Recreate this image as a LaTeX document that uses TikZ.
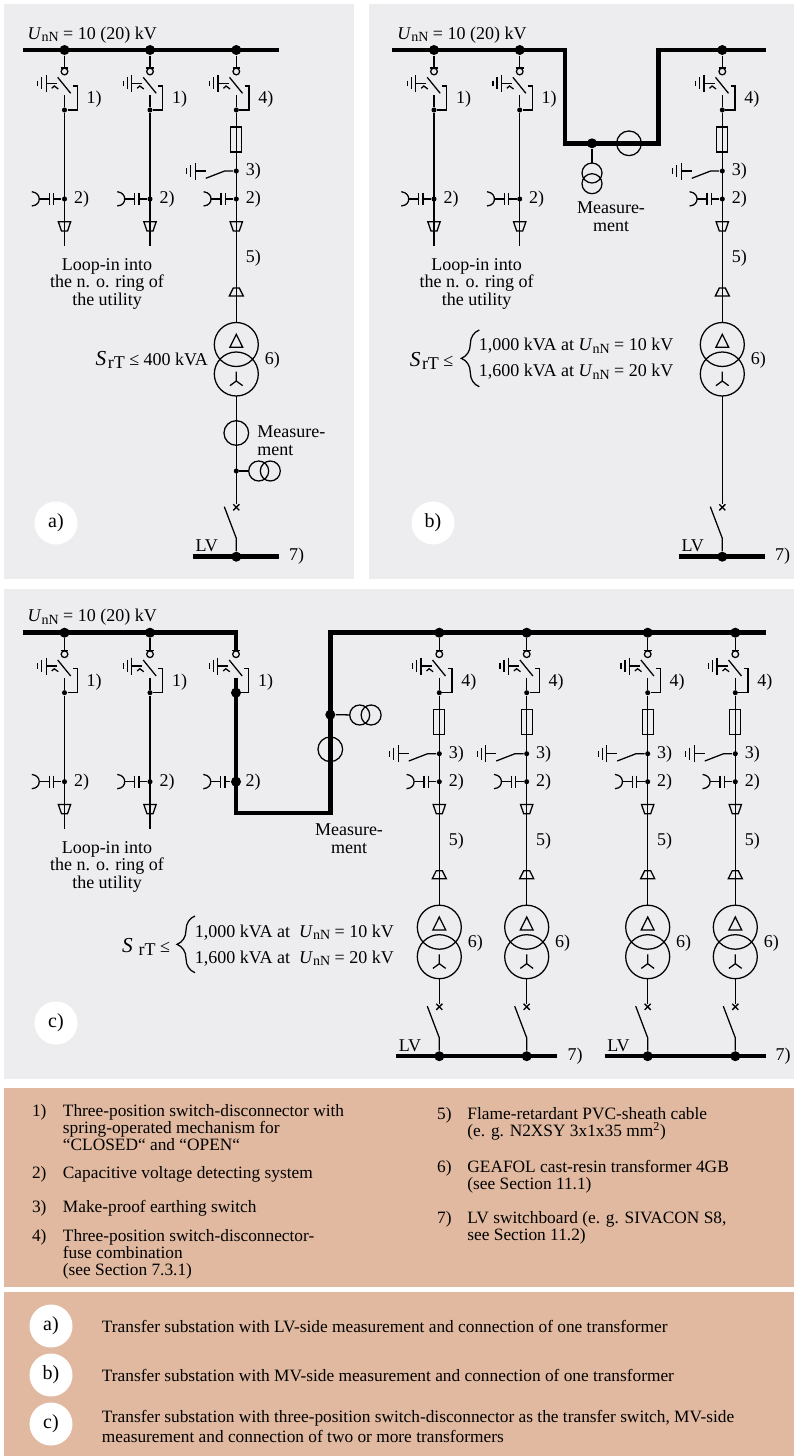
\documentclass[tikz,border=0pt]{standalone}
\usepackage{fontspec}
\setmainfont{Liberation Serif}
\usetikzlibrary{positioning,shapes.misc,decorations.pathreplacing}

\definecolor{panelgray}{HTML}{EDEDEF}
\definecolor{legendtan}{HTML}{E0B9A0}

\newcommand{\Unn}{\textit{U}\raisebox{-2pt}{\fontsize{10.5}{10.5}\selectfont nN}}
\newcommand{\SrT}{{\fontsize{16}{16}\selectfont\textit{S}}\kern1.1pt\raisebox{-2pt}{rT}}

% ticks and plate of an earth connection, plate at #1,#2
\newcommand{\earthsym}[2]{
  \draw (#1-8.5,#2-2.8) -- (#1-8.5,#2+2.8);
  \draw (#1-4.5,#2-6) -- (#1-4.5,#2+6);
  \draw (#1,#2-8.5) -- (#1,#2+8.5);
  \draw (#1,#2) -- (#1+10.4,#2);
}
% switch with ring, earth side, drive bracket
\newcommand{\swbody}[4]{
  \begin{scope}[shift={(#2,#3)}]
    \node[ringtop] (#1ring) at (0,71.5) {};
    \node[swdot] (#1out) at (0,110) {};
    \coordinate (#1fix) at (0,95);
    \draw (-3.8,68) -- (3.8,68);
    \earthsym{-18.2}{83.3}
    \draw (-6.8,77.3) -- (6.2,93.3);
    \draw (-12.8,88.3) -- (-10.2,86) -- (-6.2,89);
    \draw (#1fix) -- (#1out);
    \draw (#1out) -- (12.8,110) -- (12.8,86) -- (8.2,86);
    \node[lbl] (#1no) at (29.5,99) {#4};
  \end{scope}
}
\newcommand{\swfeed}[4]{
  \swbody{#1}{#2}{#3}{#4}
  \node[busdot] (#1bus) at (#2,#3+50) {};
  \draw (#1bus) -- (#1ring);
}
% capacitive voltage detection on the trunk
\newcommand{\capdet}[4][swdot]{
  \begin{scope}[shift={(#3,#4)}]
    \node[#1] (#2det) at (0,199) {};
    \draw (-32.7,191.7) .. controls (-27,192.5) and (-25.3,196) .. (-25.3,199)
      .. controls (-25.3,202) and (-27,205.5) .. (-32.7,206);
    \draw (-25.3,199) -- (-15.3,199);
    \draw (-15.3,193) -- (-15.3,205);
    \draw (-11,193) -- (-11,205);
    \draw (-11,199) -- (#2det);
    \node[lbl] (#2detno) at (17,199.5) {2)};
  \end{scope}
}
\newcommand{\funneltop}[3]{
  \node[coordinate] (#1fa) at (#2,#3+221.7) {};
  \draw (#1fa) ++(-6.2,0) -- ++(12.4,0) -- ++(-3.2,9.3) -- ++(-6,0) -- cycle;
}
\newcommand{\loopfeed}[4]{
  \swfeed{#1}{#2}{#3}{#4}
  \coordinate (#1end) at (#2,#3+246);
  \draw (#1out) -- (#1end);
  \capdet{#1}{#2}{#3}
  \funneltop{#1}{#2}{#3}
}
% fuse feeder down to the transformer
\newcommand{\trafofeed}[3]{
  \swfeed{#1}{#2}{#3}{4)}
  \begin{scope}[shift={(#2,#3)}]
    \node[fusebox] (#1fuse) at (0,139.5) {};
    \node[swdot] (#1es) at (0,171) {};
    \node[trans] (#1hv) at (0,344.5) {};
    \node[trans] (#1lv) at (0,374) {};
    \draw (#1out) -- (#1hv);
    \earthsym{-41}{171}
    \draw (-30.5,178.3) -- (-11.7,171) -- (#1es);
    \node[lbl] (#1esno) at (17,171.5) {3)};
    \draw (-3,288) -- (3,288) -- (7,296) -- (-7,296) -- cycle;
    \node[lbl] (#1cab) at (17,258.5) {5)};
    \draw (0,334.3) -- (6.4,347.3) -- (-6.4,347.3) -- cycle;
    \draw (0,371.7) -- (0,381) (-6.4,385.7) -- (0,381) -- (6.4,385.7);
    \node[lbl] (#1no6) at (36,360) {6)};
  \end{scope}
  \capdet{#1}{#2}{#3}
  \funneltop{#1}{#2}{#3}
}
% breaker mark, open switch and drop to the LV bus
\newcommand{\lvdrop}[3]{
  \begin{scope}[shift={(#2,#3)}]
    \node[xmark] (#1x) at (0,507.3) {};
    \node[busdot] (#1lvbus) at (0,556.7) {};
    \coordinate (#1dr) at (0,538.3);
    \draw (#1lv) -- (#1x);
    \draw (-12,506.7) -- (#1dr) -- (#1lvbus);
  \end{scope}
}

\begin{document}
\begin{tikzpicture}[x=.75pt,y=-.75pt,line width=.95pt,
    lbl/.style={inner sep=0pt,font=\fontsize{13.5}{13.3}\selectfont},
    leg/.style={inner sep=0pt,align=left,anchor=north west,font=\fontsize{13}{12.75}\selectfont},
    bus/.style={line width=3.4pt,line join=miter},
    busdot/.style={circle,fill=black,inner sep=0pt,minimum size=7.5pt},
    swdot/.style={circle,fill=black,inner sep=0pt,minimum size=3.8pt},
    ringtop/.style={circle,draw,inner sep=0pt,outer sep=0pt,minimum size=5pt},
    fusebox/.style={rectangle,draw,inner sep=0pt,minimum width=8.25pt,minimum height=18.75pt},
    trans/.style={circle,draw,inner sep=0pt,outer sep=0pt,minimum size=33pt},
    meas/.style={circle,draw,inner sep=0pt,outer sep=0pt,minimum size=18.5pt},
    vt/.style={circle,draw,inner sep=0pt,outer sep=0pt,minimum size=15pt},
    xmark/.style={cross out,draw,inner sep=0pt,minimum size=3.6pt},
    tag/.style={circle,fill=white,inner sep=0pt,minimum size=32.25pt,font=\fontsize{15}{15}\selectfont}]

  \useasboundingbox (0,0) rectangle (794,1456);
  \fill[panelgray] (4,4) rectangle (354,579);
  \fill[panelgray] (369,4) rectangle (794,579);
  \fill[panelgray] (4,589) rectangle (794,1079);
  \fill[legendtan] (4,1088) rectangle (794,1287);
  \fill[legendtan] (4,1292) rectangle (794,1456);

  % panel a
  \coordinate (baW) at (23,50);
  \coordinate (baE) at (279,50);
  \draw[bus] (baW) -- (baE);
  \node[lbl,anchor=west] (ua) at (27,35) {\Unn{} = 10 (20) kV};
  \loopfeed{aone}{64.5}{0}{1)}
  \loopfeed{atwo}{150}{0}{1)}
  \trafofeed{athree}{236.3}{0}
  \lvdrop{athree}{236.3}{0}
  \node[lbl,align=center,anchor=north] (aloop) at (107,257.5) {Loop-in into\\the n. o. ring of\\the utility};
  \node[lbl,anchor=east] (asize) at (208.5,360) {\SrT{} ≤ 400 kVA};
  \node[meas] (ameas) at (236.3,433) {};
  \node[lbl,align=left,anchor=north west] (ameaslbl) at (256.7,425) {Measure-\\ment};
  \node[swdot] (avtdot) at (236.3,471) {};
  \node[vt] (avtone) at (258.7,471) {};
  \node[vt] (avttwo) at (270.3,471) {};
  \draw (avtdot) -- (avtone);
  \coordinate (lvaW) at (192.7,556.7);
  \coordinate (lvaE) at (279.3,556.7);
  \draw[bus] (lvaW) -- (lvaE);
  \node[lbl] (lvalbl) at (206.7,545.5) {LV};
  \node[lbl] (lvano) at (296.7,556.5) {7)};
  \node[tag] (taga) at (56,523) {a)};

  % panel b
  \coordinate (bbW) at (392.3,50);
  \coordinate (bbA) at (565,50);
  \coordinate (bbB) at (565,143.3);
  \coordinate (bbC) at (658.3,143.3);
  \coordinate (bbD) at (658.3,50);
  \coordinate (bbE) at (765.7,50);
  \draw[bus] (bbW) -- (bbA) -- (bbB) -- (bbC) -- (bbD) -- (bbE);
  \node[lbl,anchor=west] (ub) at (396.7,35) {\Unn{} = 10 (20) kV};
  \loopfeed{bone}{434}{0}{1)}
  \loopfeed{btwo}{519.7}{0}{1)}
  \trafofeed{bthree}{722.3}{0}
  \lvdrop{bthree}{722.3}{0}
  \node[busdot] (bvtdot) at (592,143.3) {};
  \node[vt] (bvtone) at (592,173) {};
  \node[vt] (bvttwo) at (592,183.7) {};
  \draw (bvtdot) -- (bvtone);
  \node[meas] (bmeas) at (629,143.3) {};
  \node[lbl,align=center,anchor=north] (bmeaslbl) at (611,201) {Measure-\\ment};
  \node[lbl,align=center,anchor=north] (bloop) at (476.7,257.5) {Loop-in into\\the n. o. ring of\\the utility};
  \node[lbl,anchor=east] (bsize) at (454,361) {\SrT{} ≤};
  \coordinate (bbrB) at (479.3,386.7);
  \coordinate (bbrT) at (479.3,330);
  \draw[decorate,decoration={brace,amplitude=13.5pt}] (bbrB) -- (bbrT);
  \node[lbl,anchor=west] (bka) at (478.3,345.8) {1,000 kVA at \Unn{} = 10 kV};
  \node[lbl,anchor=west] (bkb) at (478.3,371.5) {1,600 kVA at \Unn{} = 20 kV};
  \coordinate (lvbW) at (678.7,556.7);
  \coordinate (lvbE) at (765.3,556.7);
  \draw[bus] (lvbW) -- (lvbE);
  \node[lbl] (lvblbl) at (692.7,545.5) {LV};
  \node[lbl] (lvbno) at (782.7,556.5) {7)};
  \node[tag] (tagb) at (433,523) {b)};

  % panel c
  \node[lbl,anchor=west] (uc) at (27,617.5) {\Unn{} = 10 (20) kV};
  \loopfeed{cone}{64.5}{582.7}{1)}
  \loopfeed{ctwo}{150}{582.7}{1)}
  \swbody{cthree}{236}{582.7}{1)}
  \capdet[busdot]{cthree}{236}{582.7}
  \node[busdot] (cthreejoin) at (236,692.7) {};
  \coordinate (bcW) at (23,632.7);
  \coordinate (bcA) at (236,632.7);
  \coordinate (bcB) at (236,813);
  \coordinate (bcC) at (330.3,813);
  \coordinate (bcD) at (330.3,632.7);
  \coordinate (bcE) at (766,632.7);
  \draw[bus] (bcW) -- (bcA) -- (cthreering);
  \draw[bus] (cthreefix) -- (bcB) -- (bcC) -- (bcD) -- (bcE);
  \node[busdot] (cvtdot) at (330.3,714.7) {};
  \node[vt] (cvtone) at (359.7,715) {};
  \node[vt] (cvttwo) at (371.1,715) {};
  \draw (cvtdot) -- (cvtone);
  \node[meas] (cmeas) at (330.3,749.3) {};
  \node[lbl,align=center,anchor=north] (cmeaslbl) at (349,823.5) {Measure-\\ment};
  \node[lbl,align=center,anchor=north] (cloop) at (107,840.5) {Loop-in into\\the n. o. ring of\\the utility};
  \trafofeed{cfour}{439.3}{582.7}
  \trafofeed{cfive}{526.7}{582.7}
  \trafofeed{csix}{647.7}{582.7}
  \trafofeed{cseven}{735.3}{582.7}
  \lvdrop{cfour}{439.3}{499.5}
  \lvdrop{cfive}{526.7}{499.5}
  \lvdrop{csix}{647.7}{499.5}
  \lvdrop{cseven}{735.3}{499.5}
  \node[lbl,anchor=east] (csize) at (170.7,947) {{\fontsize{16}{16}\selectfont\textit{S}}\kern1.1pt\ \raisebox{-2pt}{rT} ≤};
  \coordinate (cbrB) at (195,972.7);
  \coordinate (cbrT) at (195,916);
  \draw[decorate,decoration={brace,amplitude=13.5pt}] (cbrB) -- (cbrT);
  \node[lbl,anchor=west] (cka) at (194.3,932.2) {1,000 kVA at\ \ \Unn{} = 10 kV};
  \node[lbl,anchor=west] (ckb) at (194.3,958.2) {1,600 kVA at\ \ \Unn{} = 20 kV};
  \coordinate (lvcW) at (396,1056.2);
  \coordinate (lvcE) at (557.3,1056.2);
  \coordinate (lvdW) at (604.7,1056.2);
  \coordinate (lvdE) at (766,1056.2);
  \draw[bus] (lvcW) -- (lvcE);
  \draw[bus] (lvdW) -- (lvdE);
  \node[lbl] (lvclbl) at (410,1045.5) {LV};
  \node[lbl] (lvdlbl) at (618.5,1045.5) {LV};
  \node[lbl] (lvcno) at (575,1056.5) {7)};
  \node[lbl] (lvdno) at (783,1056.5) {7)};
  \node[tag] (tagc) at (56,1023) {c)};

  % legend
  \node[leg] (nr1) at (31.4,1103.5) {1)};
  \node[leg] (tx1) at (62.3,1103.5) {Three-position switch-disconnector with\\spring-operated mechanism for\\“CLOSED“ and “OPEN“};
  \node[leg] (nr2) at (31.4,1165.5) {2)};
  \node[leg] (tx2) at (62.3,1165.5) {Capacitive voltage detecting system};
  \node[leg] (nr3) at (31.4,1199.5) {3)};
  \node[leg] (tx3) at (62.3,1199.5) {Make-proof earthing switch};
  \node[leg] (nr4) at (31.4,1228.5) {4)};
  \node[leg] (tx4) at (62.3,1228.5) {Three-position switch-disconnector-\\fuse combination\\(see Section 7.3.1)};
  \node[leg] (nr5) at (436.5,1106.5) {5)};
  \node[leg] (tx5) at (466.8,1106.5) {Flame-retardant PVC-sheath cable\\(e. g. N2XSY 3x1x35 mm\textsuperscript{2})};
  \node[leg] (nr6) at (436.5,1159.5) {6)};
  \node[leg] (tx6) at (466.8,1159.5) {GEAFOL cast-resin transformer 4GB\\(see Section 11.1)};
  \node[leg] (nr7) at (436.5,1210.5) {7)};
  \node[leg] (tx7) at (466.8,1210.5) {LV switchboard (e. g. SIVACON S8,\\see Section 11.2)};

  \node[tag] (keya) at (51,1326) {a)};
  \node[tag] (keyb) at (51,1375) {b)};
  \node[tag] (keyc) at (51,1424) {c)};
  \node[leg,anchor=west] (keyatx) at (101.3,1326.8) {Transfer substation with LV-side measurement and connection of one transformer};
  \node[leg,anchor=west] (keybtx) at (101.3,1375.8) {Transfer substation with MV-side measurement and connection of one transformer};
  \node[leg,anchor=west,font=\fontsize{13}{15}\selectfont] (keyctx) at (101.3,1426.2) {Transfer substation with three-position switch-disconnector as the transfer switch, MV-side\\measurement and connection of two or more transformers};
\end{tikzpicture}
\end{document}
